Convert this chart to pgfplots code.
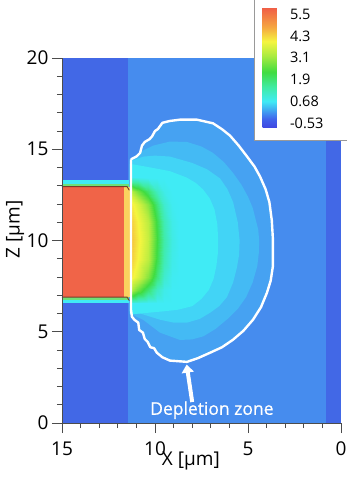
\documentclass[border=0pt]{standalone}
\usepackage{fontspec}
\setmainfont{Open Sans}
\newfontfamily\annfont[FakeBold=0.5]{Open Sans}
\usepackage{pgfplots}
\pgfplotsset{compat=1.18}
\usetikzlibrary{arrows.meta}
\definecolor{darkbg}{RGB}{66,104,230}
\definecolor{midbg}{RGB}{70,140,238}
\definecolor{bandA}{RGB}{70,162,242}
\definecolor{bandB}{RGB}{68,186,244}
\definecolor{bandC}{RGB}{66,212,246}
\definecolor{cyanC}{RGB}{64,235,245}
\definecolor{elred}{RGB}{240,100,72}
\definecolor{elyel}{RGB}{250,210,95}
\definecolor{elgreen}{RGB}{110,225,120}
\definecolor{elline}{RGB}{120,60,40}
\pgfplotsset{colormap={potential}{
 rgb255(0pt)=(64,70,225); rgb255(50pt)=(64,100,235); rgb255(80pt)=(64,140,240);
 rgb255(148pt)=(64,235,245); rgb255(230pt)=(64,235,160); rgb255(310pt)=(64,220,64);
 rgb255(400pt)=(170,235,64); rgb255(480pt)=(245,245,64); rgb255(560pt)=(245,165,64);
 rgb255(665pt)=(240,95,70)}}
\begin{document}
\begin{tikzpicture}
\begin{axis}[
 scale only axis, width=279pt, height=365pt,
 x dir=reverse, xmin=0, xmax=15, ymin=0, ymax=20,
 axis x line*=bottom, axis y line*=left,
 xtick={0,5,10,15}, ytick={0,5,10,15,20},
 minor x tick num=4, minor y tick num=4,
 tick align=outside, major tick length=10pt, minor tick length=5pt,
 axis line style={draw=black!70, line width=0.8pt},
 every tick/.style={draw=black!70, line width=0.8pt},
 /pgf/number format/assume math mode=true,
 tick label style={font=\fontsize{19}{19}\selectfont},
 xticklabel style={yshift=-5pt},
 xlabel={X [µm]}, ylabel={Z [µm]},
 label style={font=\fontsize{19}{19}\selectfont},
 xlabel style={at={(axis description cs:0.462,0)}, anchor=center, yshift=-38pt},
 ylabel style={at={(axis description cs:-0.168,0.53)}, anchor=center},
 axis on top, clip=false,
 colormap name=potential, point meta min=-0.8, point meta max=5.85,
 colorbar,
 colorbar style={
   at={(parent axis.north east)}, anchor=north west, xshift=-87pt, yshift=50pt,
   scale only axis, width=19pt, height=120pt,
   ytick={-0.53,0.68,1.9,3.1,4.3,5.5}, yticklabels={-0.53,0.68,1.9,3.1,4.3,5.5},
   major tick length=0pt, axis line style={draw=none},
   yticklabel style={font=\fontsize{14.5}{14.5}\selectfont, xshift=5pt},
 },
]
% background regions
\addplot[draw=none, fill=darkbg] coordinates {(15,0) (11.45,0) (11.45,20) (15,20)} -- cycle;
\addplot[draw=none, fill=midbg] coordinates {(11.45,0) (0.8,0) (0.8,20) (11.45,20)} -- cycle;
\addplot[draw=none, fill=darkbg] coordinates {(0.8,0) (0,0) (0,20) (0.8,20)} -- cycle;
% depletion zone bands
\addplot[draw=none, fill=bandA] coordinates {(11.32,14.45) (11.0,14.6) (10.8,14.8) (10.7,15.2) (10.55,15.4) (10.3,15.55) (10.16,15.7) (10.0,16.0) (9.85,16.1) (9.6,16.45) (9.2,16.55) (8.66,16.62) (7.74,16.62) (6.88,16.42) (6.4,16.1) (5.97,15.75) (5.5,15.2) (5.05,14.6) (4.65,14.05) (4.35,13.5) (4.05,12.8) (3.85,12.1) (3.72,11.1) (3.66,10.05) (3.66,8.6) (3.78,7.8) (3.98,7.14) (4.3,6.35) (4.73,5.66) (5.25,5.05) (5.81,4.56) (6.4,4.15) (7.04,3.85) (7.7,3.55) (8.28,3.35) (9.2,3.42) (9.6,3.6) (9.9,3.85) (10.05,4.1) (10.25,4.15) (10.4,4.45) (10.55,4.6) (10.65,4.95) (10.85,5.1) (10.9,5.5) (11.1,5.65) (11.24,5.82) (11.32,6.2)} -- cycle;
\addplot[draw=none, fill=bandB] coordinates {(11.35,14.45) (10.7,14.9) (10.1,15.2) (9.2,15.42) (8.28,15.4) (7.5,15.15) (6.88,14.8) (6.3,14.3) (5.8,13.7) (5.35,13.05) (5.0,12.4) (4.75,11.8) (4.6,11.2) (4.45,10.6) (4.4,10.0) (4.42,9.3) (4.5,8.6) (4.75,7.7) (5.1,6.9) (5.55,6.25) (6.1,5.7) (6.75,5.15) (7.4,4.75) (8.0,4.58) (8.66,4.55) (9.73,4.95) (10.65,5.66) (11.35,6.0)} -- cycle;
\addplot[draw=none, fill=bandC] coordinates {(11.35,14.35) (10.6,14.6) (10.0,14.65) (9.2,14.6) (8.0,14.25) (7.2,13.9) (6.5,13.4) (6.1,12.8) (5.8,12.1) (5.55,11.0) (5.45,10.0) (5.48,9.2) (5.6,8.5) (5.8,7.7) (6.13,6.9) (6.55,6.4) (7.04,6.04) (7.6,5.7) (8.28,5.5) (9.0,5.5) (9.73,5.66) (10.8,6.0) (11.35,5.98)} -- cycle;
\addplot[draw=none, fill=cyanC] coordinates {(11.35,14.2) (10.5,14.05) (9.2,13.8) (8.3,13.45) (7.8,13.15) (7.42,12.8) (7.05,12.3) (6.8,11.7) (6.65,10.9) (6.6,10.0) (6.62,9.3) (6.7,8.6) (6.85,7.9) (7.1,7.3) (7.5,6.8) (8.0,6.4) (8.8,6.2) (9.73,6.1) (10.8,6.0) (11.35,5.95)} -- cycle;
% potential gradient near the electrode
\addplot[surf, shader=interp, mesh/cols=7, mesh/rows=9, point meta=explicit] table[x=x, y=z, meta=c] {
x z c
11.35 6.6 0.9
10.9 6.6 0.8
10.4 6.6 0.7
9.9 6.6 0.68
9.5 6.6 0.68
9.1 6.6 0.68
8.7 6.6 0.68
11.35 7.3 3.4
10.9 7.3 2.7
10.4 7.3 1.9
9.9 7.3 1.15
9.5 7.3 0.8
9.1 7.3 0.68
8.7 7.3 0.68
11.35 8.0 4.2
10.9 8.0 3.7
10.4 8.0 2.9
9.9 8.0 1.8
9.5 8.0 1.05
9.1 8.0 0.72
8.7 8.0 0.68
11.35 9.0 4.5
10.9 9.0 4.0
10.4 9.0 3.4
9.9 9.0 2.2
9.5 9.0 1.3
9.1 9.0 0.8
8.7 9.0 0.68
11.35 10.0 4.6
10.9 10.0 4.1
10.4 10.0 3.5
9.9 10.0 2.3
9.5 10.0 1.4
9.1 10.0 0.85
8.7 10.0 0.68
11.35 11.0 4.5
10.9 11.0 4.0
10.4 11.0 3.4
9.9 11.0 2.2
9.5 11.0 1.3
9.1 11.0 0.8
8.7 11.0 0.68
11.35 12.0 4.2
10.9 12.0 3.7
10.4 12.0 2.9
9.9 12.0 1.8
9.5 12.0 1.05
9.1 12.0 0.72
8.7 12.0 0.68
11.35 12.7 3.4
10.9 12.7 2.7
10.4 12.7 1.9
9.9 12.7 1.15
9.5 12.7 0.8
9.1 12.7 0.68
8.7 12.7 0.68
11.35 13.4 0.9
10.9 13.4 0.8
10.4 13.4 0.7
9.9 13.4 0.68
9.5 13.4 0.68
9.1 13.4 0.68
8.7 13.4 0.68
};
% electrode
\addplot[draw=none, fill=cyanC] coordinates {(15,13.1) (11.4,13.1) (11.4,13.3) (15,13.3)} -- cycle;
\addplot[draw=none, fill=elgreen] coordinates {(15,12.95) (11.4,12.95) (11.4,13.1) (15,13.1)} -- cycle;
\addplot[draw=none, fill=cyanC] coordinates {(15,6.55) (11.4,6.55) (11.4,6.75) (15,6.75)} -- cycle;
\addplot[draw=none, fill=elgreen] coordinates {(15,6.75) (11.4,6.75) (11.4,6.9) (15,6.9)} -- cycle;
\addplot[draw=none, fill=elred] coordinates {(15,6.9) (11.65,6.9) (11.65,12.95) (15,12.95)} -- cycle;
\addplot[draw=none, fill=elyel] coordinates {(11.65,6.9) (11.35,6.9) (11.35,12.95) (11.65,12.95)} -- cycle;
\addplot[elline, line width=0.9pt] coordinates {(15,12.95) (11.5,12.95) (11.38,12.75)};
\addplot[elline, line width=0.9pt] coordinates {(15,6.9) (11.5,6.9) (11.38,6.7)};
% depletion boundary
\addplot[white, line width=2.4pt, line join=round] coordinates {(11.29,14.45) (11.0,14.6) (10.8,14.8) (10.7,15.2) (10.55,15.4) (10.3,15.55) (10.16,15.7) (10.0,16.0) (9.85,16.1) (9.6,16.45) (9.2,16.55) (8.66,16.62) (7.74,16.62) (6.88,16.42) (6.4,16.1) (5.97,15.75) (5.5,15.2) (5.05,14.6) (4.65,14.05) (4.35,13.5) (4.05,12.8) (3.85,12.1) (3.72,11.1) (3.66,10.05) (3.66,8.6) (3.78,7.8) (3.98,7.14) (4.3,6.35) (4.73,5.66) (5.25,5.05) (5.81,4.56) (6.4,4.15) (7.04,3.85) (7.7,3.55) (8.28,3.35) (9.2,3.42) (9.6,3.6) (9.9,3.85) (10.05,4.1) (10.25,4.15) (10.4,4.45) (10.55,4.6) (10.65,4.95) (10.85,5.1) (10.9,5.5) (11.1,5.65) (11.24,5.82) (11.29,6.2) (11.29,14.45)};
% annotation
\draw[white, line width=4pt, -{Triangle[width=12pt,length=8pt]}] (axis cs:8.0,1.15) -- (axis cs:8.3,3.2);
\node[white, font=\annfont\fontsize{17.5}{17.5}\selectfont] at (axis cs:6.94,0.7) {Depletion zone};
% legend box behind the colour bar
\fill[white] (axis cs:4.68,15.5) rectangle (axis cs:-0.6,23.5);
\draw[black!40, line width=0.6pt] (axis cs:4.68,23.5) -- (axis cs:4.68,15.5) -- (axis cs:-0.6,15.5);
\end{axis}
\pgfresetboundingbox
\path (-62pt,-55pt) rectangle (285pt,423pt);
\end{tikzpicture}
\end{document}
